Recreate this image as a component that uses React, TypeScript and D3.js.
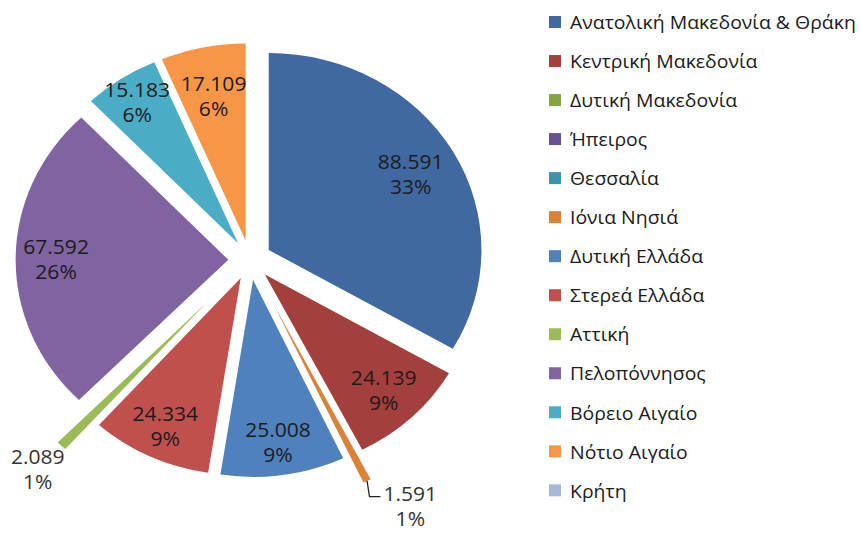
import React, { useEffect, useRef } from "react";
import * as d3 from "d3";

const categories = [
  "Ανατολική Μακεδονία & Θράκη",
  "Κεντρική Μακεδονία",
  "Δυτική Μακεδονία",
  "Ήπειρος",
  "Θεσσαλία",
  "Ιόνια Νησιά",
  "Δυτική Ελλάδα",
  "Στερεά Ελλάδα",
  "Αττική",
  "Πελοπόννησος",
  "Βόρειο Αιγαίο",
  "Νότιο Αιγαίο",
  "Κρήτη",
];
const values = [88591, 24139, 0, 0, 0, 1591, 25008, 24334, 2089, 67592, 15183, 17109, 0];
const colors = [
  "#4169A1", "#A3403D", "#84A445", "#6B5193", "#3B93AC", "#D9823A",
  "#4F81BD", "#C0504D", "#9BBB59", "#8064A2", "#4BACC6", "#F79646", "#A7B9D9",
];
// per-slice explosion (px) and label placement settings
const explode = [20, 20, 20, 20, 20, 49, 20, 20, 58, 20, 20, 20, 20];
const outsideLabel = [false, false, false, false, false, true, false, false, true, false, false, false, false];
const labelAngleNudge = [0, 0, 0, 0, 0, -5, 0, 0, 0, 0, 0, 0, 0];
const labelRadius = [0.77, 0.81, 0.8, 0.8, 0.8, 0.8, 0.83, 0.83, 0.8, 0.81, 0.86, 0.75, 0.8];

const W = 861, H = 544;
const CX = 250, CY = 260, R = 197, SX = 1.08;

const grLocale = d3.formatLocale({ decimal: ",", thousands: ".", grouping: [3], currency: ["", "€"] });
const fmt = grLocale.format(",.0f");

function percents(vals: number[]): number[] {
  const total = d3.sum(vals);
  const raw = vals.map((v) => (v / total) * 100);
  const fl = raw.map((r) => Math.floor(r));
  let rem = 100 - d3.sum(fl);
  const order = raw.map((r, i) => [r - Math.floor(r), i]).filter((d) => vals[d[1]] > 0).sort((a, b) => b[0] - a[0]);
  for (let k = 0; k < order.length && rem > 0; k++, rem--) fl[order[k][1]] += 1;
  return fl;
}

export default function App() {
  const ref = useRef<SVGSVGElement>(null);
  useEffect(() => {
    const svg = d3.select(ref.current);
    svg.selectAll("*").remove();
    const pcts = percents(values);
    const pie = d3.pie<number>().sort(null).value((d) => d)(values);
    const arc = d3.arc<d3.PieArcDatum<number>>().innerRadius(0).outerRadius(R);
    const g = svg.append("g").attr("transform", `translate(${CX},${CY}) scale(${SX},1)`);
    const font = "'Open Sans', 'DejaVu Sans', sans-serif";

    pie.forEach((p, i) => {
      if (values[i] <= 0) return;
      const mid = (p.startAngle + p.endAngle) / 2;
      const ox = Math.sin(mid) * explode[i];
      const oy = -Math.cos(mid) * explode[i];
      g.append("path")
        .attr("d", arc(p) as string)
        .attr("transform", `translate(${ox},${oy})`)
        .attr("fill", colors[i]);
    });

    const lg = svg.append("g");
    pie.forEach((p, i) => {
      if (values[i] <= 0) return;
      const mid = (p.startAngle + p.endAngle) / 2;
      let lx: number, ly: number;
      if (outsideLabel[i]) {
        const a = mid + (labelAngleNudge[i] * Math.PI) / 180;
        lx = CX + SX * Math.sin(a) * 287;
        ly = CY - Math.cos(a) * 287;
      } else {
        const dist = explode[i] + R * labelRadius[i];
        lx = CX + SX * Math.sin(mid) * dist;
        ly = CY - Math.cos(mid) * dist;
      }
      const t = lg.append("text")
        .attr("transform", `translate(${lx},${ly}) scale(${SX},1)`)
        .attr("font-family", font)
        .attr("font-size", 19.5)
        .attr("fill", outsideLabel[i] ? "#333" : "#1b1b1b")
        .attr("text-anchor", "middle");
      t.append("tspan").attr("x", 0).attr("y", -12.5).attr("dominant-baseline", "central").text(fmt(values[i]));
      t.append("tspan").attr("x", 0).attr("y", 12.5).attr("dominant-baseline", "central").text(pcts[i] + "%");
      if (outsideLabel[i] && labelAngleNudge[i] !== 0) {
        const tipD = explode[i] + R;
        const tx = CX + SX * Math.sin(mid) * tipD;
        const ty = CY - Math.cos(mid) * tipD;
        const node = t.select("tspan").node() as SVGTSpanElement;
        const w = node.getComputedTextLength() * SX;
        const left = lx - w / 2;
        lg.append("polyline")
          .attr("points", `${tx},${ty} ${left - 14},${ly - 9} ${left - 3},${ly - 9}`)
          .attr("fill", "none")
          .attr("stroke", "#222")
          .attr("stroke-width", 1.3);
      }
    });

    const leg = svg.append("g");
    categories.forEach((c, i) => {
      const y = 22 + i * 39.03;
      leg.append("rect").attr("x", 549).attr("y", y - 6).attr("width", 12).attr("height", 12).attr("fill", colors[i]);
      leg.append("text")
        .attr("transform", `translate(570,${y}) scale(${SX},1)`)
        .attr("dominant-baseline", "central")
        .attr("font-family", font)
        .attr("font-size", 18)
        .attr("fill", "#1b1b1b")
        .text(c);
    });
  }, []);
  return (
    <svg ref={ref} width={W} height={H} style={{ position: "absolute", left: 0, top: 0, background: "#fff" }} />
  );
}
